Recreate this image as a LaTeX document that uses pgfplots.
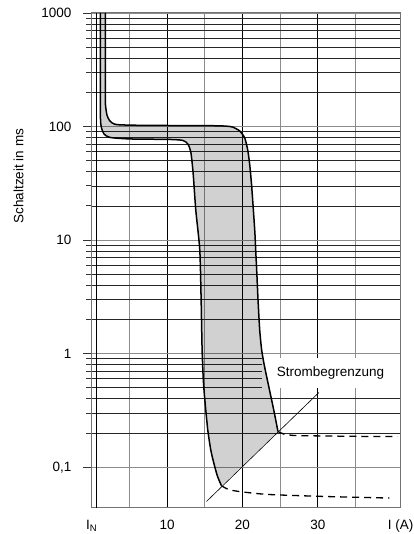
\documentclass[border=0pt]{standalone}
\usepackage{fontspec}
\setmainfont{Liberation Sans}
\usepackage{pgfplots}
\pgfplotsset{compat=1.18}
\begin{document}
\begin{tikzpicture}
\begin{axis}[
  scale only axis, width=309pt, height=494.7pt,
  xmin=0, xmax=41, ymode=log, ymin=0.044, ymax=1000,
  font=\fontsize{13.5}{16}\selectfont,
  xtick={10,20,30}, xticklabels={10,20,30},
  minor xtick={5,15,25,35},
  extra x ticks={0,41}, extra x tick labels={I\textsubscript{N},I (A)},
  extra x tick style={grid=none},
  ytick={0.1,1,10,100,1000}, yticklabels={{0,1},1,10,100,1000},
  xmajorgrids, xminorgrids, ymajorgrids, yminorgrids,
  major x grid style={black, line width=0.9pt},
  minor x grid style={black!45, line width=0.9pt},
  major y grid style={black!45, line width=0.9pt},
  minor y grid style={black!85, line width=0.8pt},
  tick align=outside, tick pos=left,
  major tick length=8.7pt, minor tick length=5.7pt,
  ytick style={black!80, line width=0.9pt},
  xtick style={draw=none},
  axis line style={black!55, line width=1pt},
  yticklabel style={xshift=-8pt},
  ylabel={Schaltzeit in ms},
  every axis y label/.style={at={(axis description cs:-0.237,0.67)}, rotate=90, anchor=center},
]
\draw[black, line width=0.9pt] (axis cs:0.6,0.044) -- (axis cs:0.6,1000);
\node[fill=white, minimum width=138pt, minimum height=30pt, inner sep=0pt] at (axis cs:31.7,0.678) {Strombegrenzung};
% shaded band
\addplot[draw=none, fill=black, fill opacity=0.18] coordinates {
(1.14,1000) (1.15,400) (1.16,200) (1.17,114) (1.30,97.3) (1.63,86.1) (2.42,80.2) (5.07,77.8) (10.37,77) (12.09,75.5) (12.75,70.3) (13.15,59.8) (13.46,38.8) (13.81,18.4) (14.34,8.2) (14.52,2.98) (14.65,1.08) (14.81,0.587) (15.01,0.392) (15.40,0.213) (15.80,0.142) (16.2,0.109) (16.67,0.084) (17.22,0.0686)
(24.72,0.206) (24.15,0.320) (23.39,0.553) (22.89,0.797) (22.55,1.08) (22.29,1.62) (22.07,2.98) (21.93,4.78) (21.76,8.2) (21.63,12.3) (21.23,29.6) (20.97,45.9) (20.7,62.3) (20.3,79.4) (19.64,91.4) (18.7,99) (17.66,101) (14.74,102) (7.72,102.3) (3.35,104) (2.42,112) (2.03,126) (1.83,155) (1.80,210) (1.80,1000)
} -- cycle;
% lower / left curve
\addplot[black, line width=1.5pt, smooth, tension=0.4] coordinates {
(1.14,1000) (1.15,400) (1.16,200) (1.17,114) (1.30,97.3) (1.63,86.1) (2.42,80.2) (5.07,77.8) (10.37,77) (12.09,75.5) (12.75,70.3) (13.15,59.8) (13.46,38.8) (13.81,18.4) (14.34,8.2) (14.52,2.98) (14.65,1.08) (14.81,0.587) (15.01,0.392) (15.40,0.213) (15.80,0.142) (16.2,0.109) (16.67,0.084) (17.22,0.0686)
};
% upper / right curve
\addplot[black, line width=1.5pt, smooth, tension=0.4] coordinates {
(24.72,0.206) (24.15,0.320) (23.39,0.553) (22.89,0.797) (22.55,1.08) (22.29,1.62) (22.07,2.98) (21.93,4.78) (21.76,8.2) (21.63,12.3) (21.23,29.6) (20.97,45.9) (20.7,62.3) (20.3,79.4) (19.64,91.4) (18.7,99) (17.66,101) (14.74,102) (7.72,102.3) (3.35,104) (2.42,112) (2.03,126) (1.83,155) (1.80,210) (1.80,1000)
};
% current limiting line
\addplot[black, line width=0.6pt] coordinates {(15.23,0.0499) (30.15,0.455)};
% dashed continuations
\addplot[black, line width=1.3pt, dash pattern=on 7pt off 5pt, smooth, tension=0.4] coordinates {
(24.72,0.206) (25.6,0.195) (27,0.19) (29.3,0.189) (35,0.187) (40.57,0.186)
};
\addplot[black, line width=1.3pt, dash pattern=on 7pt off 5pt, smooth, tension=0.4] coordinates {
(17.22,0.0686) (18.2,0.0635) (19.64,0.061) (22.3,0.0583) (24.5,0.0571) (31.1,0.0552) (39.5,0.0535)
};
\end{axis}
\pgfresetboundingbox
\path[use as bounding box] ([shift={(-91.7pt,-26.3pt)}]current axis.south west) rectangle ([shift={(13pt,13pt)}]current axis.north east);
\end{tikzpicture}
\end{document}
